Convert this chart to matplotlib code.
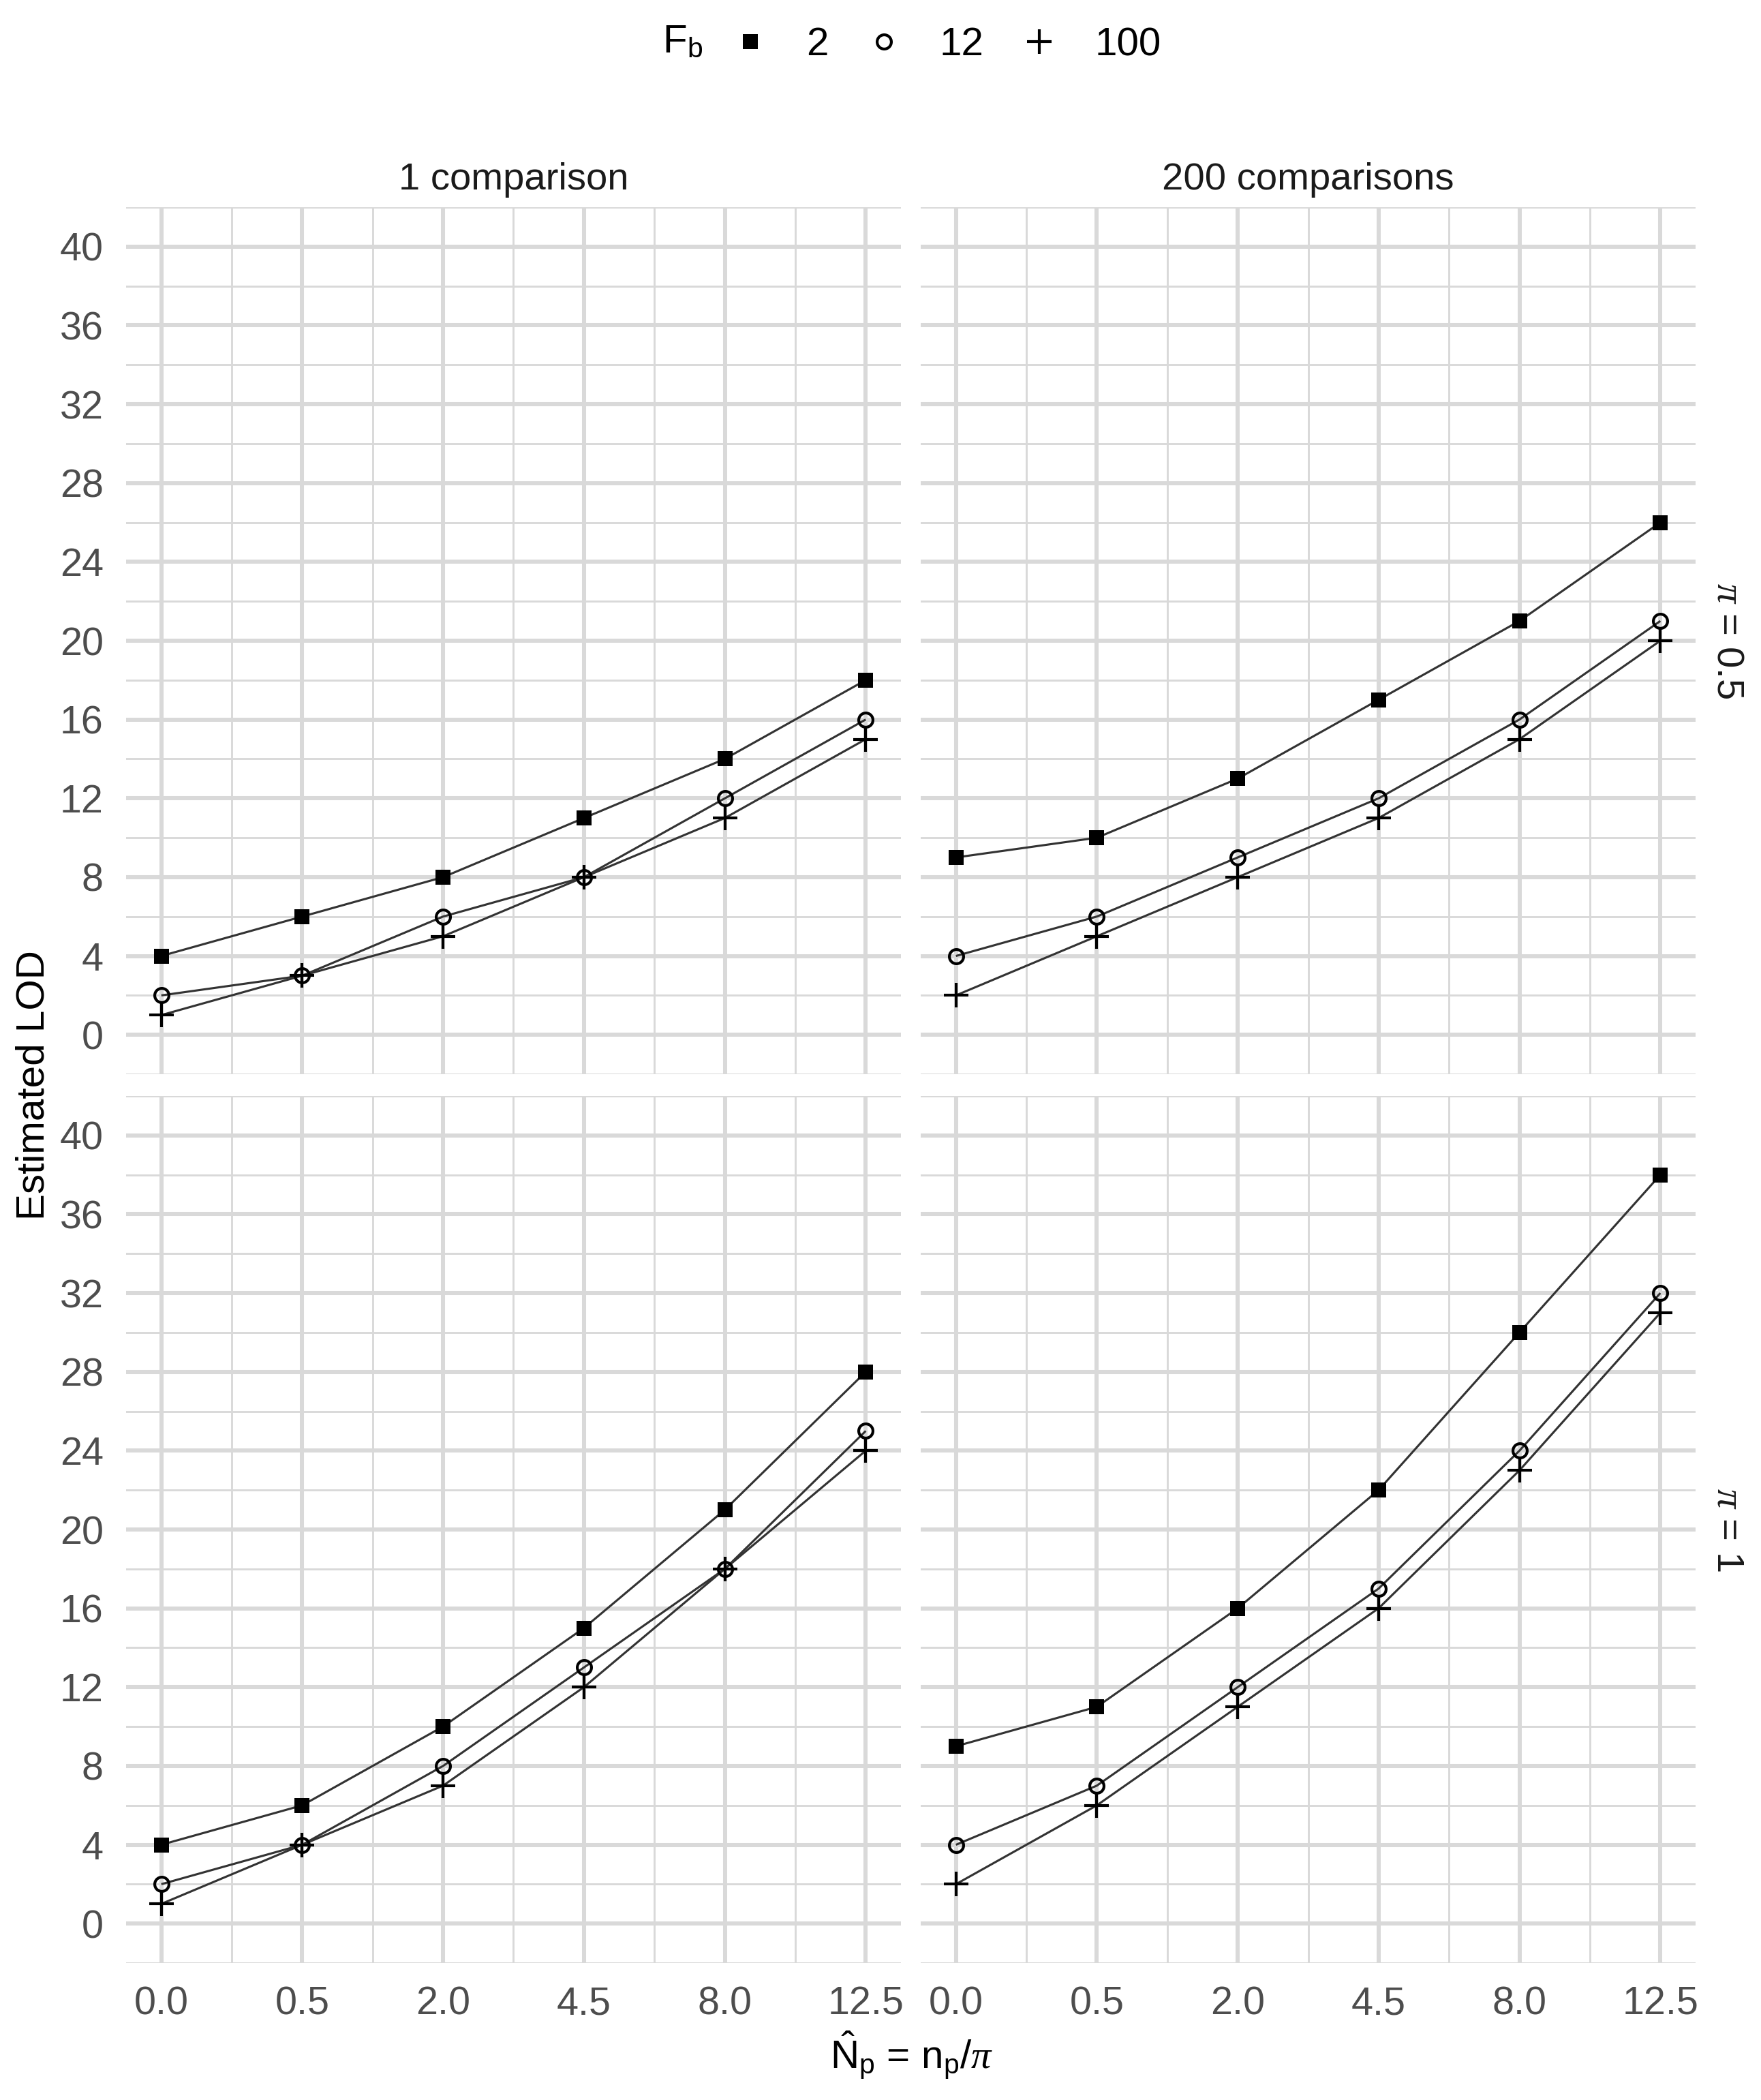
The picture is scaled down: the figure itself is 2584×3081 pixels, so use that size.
import numpy as np
import matplotlib
matplotlib.use('Agg')
import matplotlib.pyplot as plt
from matplotlib.lines import Line2D

plt.rcParams['font.family'] = ['Liberation Sans', 'DejaVu Sans']
plt.rcParams['mathtext.fontset'] = 'custom'
plt.rcParams['mathtext.rm'] = 'Liberation Sans'
plt.rcParams['mathtext.it'] = 'Liberation Serif:italic'
plt.rcParams['mathtext.bf'] = 'Liberation Sans:bold'

#--data
np_levels = [0.0, 0.5, 2.0, 4.5, 8.0, 12.5]
np_labels = ['0.0', '0.5', '2.0', '4.5', '8.0', '12.5']
fb_levels = ['2', '12', '100']
comparisons = ['1 comparison', '200 comparisons']
pi_levels = ['0.5', '1']

#--pi = 0.5
lod_pi05_c1 = {'2': [4, 6, 8, 11, 14, 18],
               '12': [2, 3, 6, 8, 12, 16],
               '100': [1, 3, 5, 8, 11, 15]}
lod_pi05_c200 = {'2': [9, 10, 13, 17, 21, 26],
                 '12': [4, 6, 9, 12, 16, 21],
                 '100': [2, 5, 8, 11, 15, 20]}
#--pi = 1
lod_pi1_c1 = {'2': [4, 6, 10, 15, 21, 28],
              '12': [2, 4, 8, 13, 18, 25],
              '100': [1, 4, 7, 12, 18, 24]}
lod_pi1_c200 = {'2': [9, 11, 16, 22, 30, 38],
                '12': [4, 7, 12, 17, 24, 32],
                '100': [2, 6, 11, 16, 23, 31]}

panels = [[lod_pi05_c1, lod_pi05_c200],
          [lod_pi1_c1, lod_pi1_c200]]

style = {'2':   dict(marker='s', ms=5.4, mfc='black', mec='black', mew=0),
         '12':  dict(marker='o', ms=5.0, mfc='none', mec='black', mew=1.0),
         '100': dict(marker='+', ms=8.6, mfc='none', mec='black', mew=1.0)}

grid_col = '#D9D9D9'


def fwd(x):
    x = np.asarray(x, dtype=float)
    return np.sign(x)*np.sqrt(np.abs(x))


def inv(x):
    x = np.asarray(x, dtype=float)
    return np.sign(x)*x**2


W, H = 2584, 3081
dpi = 300
fig = plt.figure(figsize=(W/dpi, H/dpi), dpi=dpi)

lefts = [185/W, 1351/W]
bottoms = [1-1576/H, 1-2880/H]
aw = 1137/W
ah = 1272/H

sq = fwd(np_levels)
span = sq[-1]-sq[0]
xlo, xhi = inv(sq[0]-0.05*span), inv(sq[-1]+0.05*span)
xminor = inv((sq[:-1]+sq[1:])/2)

axes = []
for r in range(2):
    for c in range(2):
        ax = fig.add_axes([lefts[c], bottoms[r], aw, ah])
        ax.set_xscale('function', functions=(fwd, inv))
        ax.set_xlim(float(xlo), float(xhi))
        ax.set_ylim(-2, 42)
        ax.set_xticks(np_levels)
        ax.set_xticks(xminor, minor=True)
        ax.set_yticks(np.arange(0, 41, 4))
        ax.set_yticks(np.arange(-2, 43, 4), minor=True)
        ax.grid(True, which='major', color=grid_col, lw=1.45, zorder=0)
        ax.grid(True, which='minor', color=grid_col, lw=0.7, zorder=0)
        ax.set_axisbelow(True)
        for s in ax.spines.values():
            s.set_visible(False)
        ax.tick_params(which='both', length=0, labelsize=13.8, labelcolor='#4D4D4D', pad=8)
        if r == 1:
            ax.set_xticklabels(np_labels)
        else:
            ax.set_xticklabels([])
        if c == 1:
            ax.set_yticklabels([])

        data = panels[r][c]
        for fb in fb_levels:
            ax.plot(np_levels, data[fb], color='#333333', lw=0.75, zorder=2,
                    solid_capstyle='butt')
        for fb in fb_levels:
            ax.plot(np_levels, data[fb], ls='none', zorder=3, clip_on=False, **style[fb])

        if r == 0:
            ax.text(0.5, 1.0+40/1272, comparisons[c], transform=ax.transAxes,
                    ha='center', va='center', fontsize=13.5, color='#1A1A1A')
        if c == 1:
            ax.text(1.0+47/1137, 0.5, r'$\pi$ = %s' % pi_levels[r], transform=ax.transAxes,
                    ha='center', va='center', rotation=-90, fontsize=13.5, color='#1A1A1A')
        axes.append(ax)

#--axis titles
fig.text(50/W, 1-1592/H, 'Estimated LOD', rotation=90, ha='center', va='center', fontsize=14)
fig.text(1337/W, 1-3015/H, r'$\hat{\mathrm{N}}_\mathrm{p}$ = n$_\mathrm{p}$/$\pi$',
         ha='center', va='center', fontsize=14)

#--legend
fig.text(1002/W, 1-62/H, r'F$_\mathrm{b}$', ha='center', va='center', fontsize=14)
handles = [Line2D([], [], ls='none', **style[fb]) for fb in fb_levels]
fig.legend(handles, fb_levels, loc='center', bbox_to_anchor=(1388/W, 1-66/H), ncol=3,
           frameon=False, fontsize=14, handlelength=1.0, handletextpad=0.9,
           columnspacing=0.9)

fig.savefig('out.png', dpi=dpi)
